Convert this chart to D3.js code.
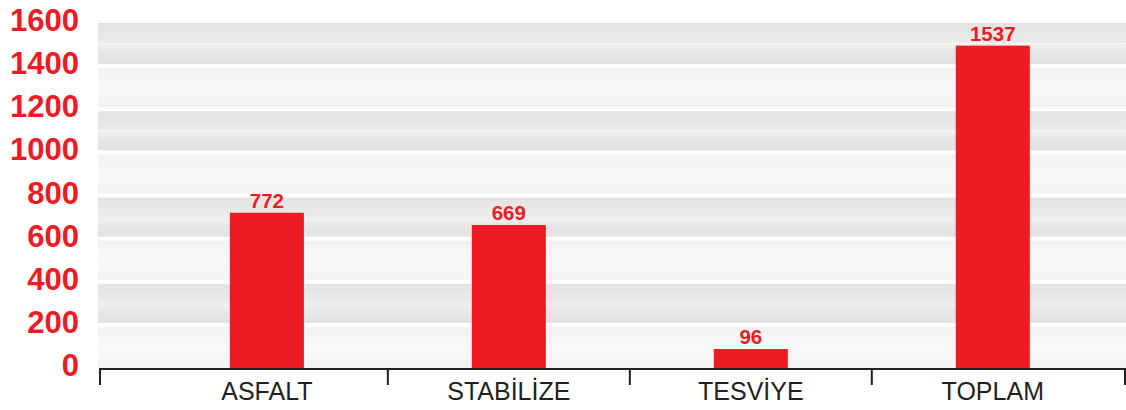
<!DOCTYPE html>
<html>
<head>
<meta charset="utf-8">
<script src="https://cdn.jsdelivr.net/npm/d3@7"></script>
<style>
  html, body { margin: 0; padding: 0; background: #ffffff; }
  svg { display: block; }
  text { font-family: "Liberation Sans", Arial, Helvetica, sans-serif; }
</style>
</head>
<body>
<svg id="chart" width="1126" height="410"></svg>
<script>
// ---- data ----
const categories = ["ASFALT", "STABİLİZE", "TESVİYE", "TOPLAM"];
const values = [720, 663, 88, 1495];            // bar heights as drawn in the picture
const valueLabels = ["772", "669", "96", "1537"]; // numbers printed above the bars
const yTicks = [0, 200, 400, 600, 800, 1000, 1200, 1400, 1600];
const highlightBands = [1400, 1000, 0];          // bands with a thin light line across the middle

// ---- layout ----
const W = 1126, H = 410;
const plotLeft = 98, axisLeft = 100, plotRight = 1126;
const red = "#ed1c24", dark = "#231f20";

const svg = d3.select("#chart");
const defs = svg.append("defs");

const y = d3.scaleLinear().domain([0, 1600]).range([368, 23]);
const x = d3.scaleBand().domain(categories).range([axisLeft, 1125])
  .paddingInner(0.694).paddingOuter(0.465).align(0.577);

// gradients for background bands
const gDark = defs.append("linearGradient").attr("id", "gDark").attr("x1", 0).attr("x2", 0).attr("y1", 0).attr("y2", 1);
[[0, "#e4e3e2"], [0.45, "#ebeae9"], [0.55, "#f0efee"], [0.7, "#e8e7e6"], [1, "#e3e2e1"]]
  .forEach(([o, c]) => gDark.append("stop").attr("offset", o).attr("stop-color", c));
const gLight = defs.append("linearGradient").attr("id", "gLight").attr("x1", 0).attr("x2", 0).attr("y1", 0).attr("y2", 1);
[[0, "#f2f2f1"], [0.5, "#f8f8f7"], [1, "#f3f3f2"]]
  .forEach(([o, c]) => gLight.append("stop").attr("offset", o).attr("stop-color", c));

// background bands between tick values
const bandStarts = yTicks.slice(0, -1);
const bg = svg.append("g");
bandStarts.forEach((v, i) => {
  const isDark = (i % 2 === 1);
  const top = y(v + 200) + (v + 200 === 1600 ? 0 : 2);
  const bottom = y(v) - (v === 0 ? 0 : 2);
  bg.append("rect")
    .attr("x", plotLeft).attr("width", plotRight - plotLeft)
    .attr("y", top).attr("height", bottom - top)
    .attr("fill", isDark ? "url(#gDark)" : "url(#gLight)");
  if (highlightBands.includes(v)) {
    bg.append("rect")
      .attr("x", plotLeft).attr("width", plotRight - plotLeft)
      .attr("y", (top + bottom) / 2 - 0.5).attr("height", 1)
      .attr("fill", "#fafafa");
  }
});

// y tick labels
svg.append("g").selectAll("text").data(yTicks).join("text")
  .attr("x", 79).attr("y", d => y(d) + 8)
  .attr("text-anchor", "end")
  .attr("font-size", 31).attr("font-weight", "bold")
  .attr("fill", red)
  .text(d => d);

// bars
svg.append("g").selectAll("rect").data(categories).join("rect")
  .attr("x", d => x(d))
  .attr("width", x.bandwidth())
  .attr("y", (d, i) => y(values[i]))
  .attr("height", (d, i) => y(0) - y(values[i]))
  .attr("fill", red);

// value labels
svg.append("g").selectAll("text").data(categories).join("text")
  .attr("x", d => x(d) + x.bandwidth() / 2)
  .attr("y", (d, i) => y(values[i]) - 5)
  .attr("text-anchor", "middle")
  .attr("font-size", 20.5).attr("font-weight", "bold")
  .attr("fill", red)
  .text((d, i) => valueLabels[i]);

// x axis
const centers = categories.map(c => x(c) + x.bandwidth() / 2);
const tickPos = [axisLeft];
for (let i = 0; i < centers.length - 1; i++) tickPos.push((centers[i] + centers[i + 1]) / 2);
tickPos.push(1125);

const ax = svg.append("g");
ax.append("line")
  .attr("x1", axisLeft - 1).attr("x2", plotRight)
  .attr("y1", y(0) + 1).attr("y2", y(0) + 1)
  .attr("stroke", dark).attr("stroke-width", 2);
ax.selectAll("line.tick").data(tickPos).join("line")
  .attr("class", "tick")
  .attr("x1", d => d).attr("x2", d => d)
  .attr("y1", y(0)).attr("y2", y(0) + 17)
  .attr("stroke", dark).attr("stroke-width", 2);

ax.selectAll("text").data(categories).join("text")
  .attr("x", d => x(d) + x.bandwidth() / 2)
  .attr("y", 400)
  .attr("text-anchor", "middle")
  .attr("font-size", 25)
  .attr("fill", dark)
  .text(d => d);
</script>
</body>
</html>
